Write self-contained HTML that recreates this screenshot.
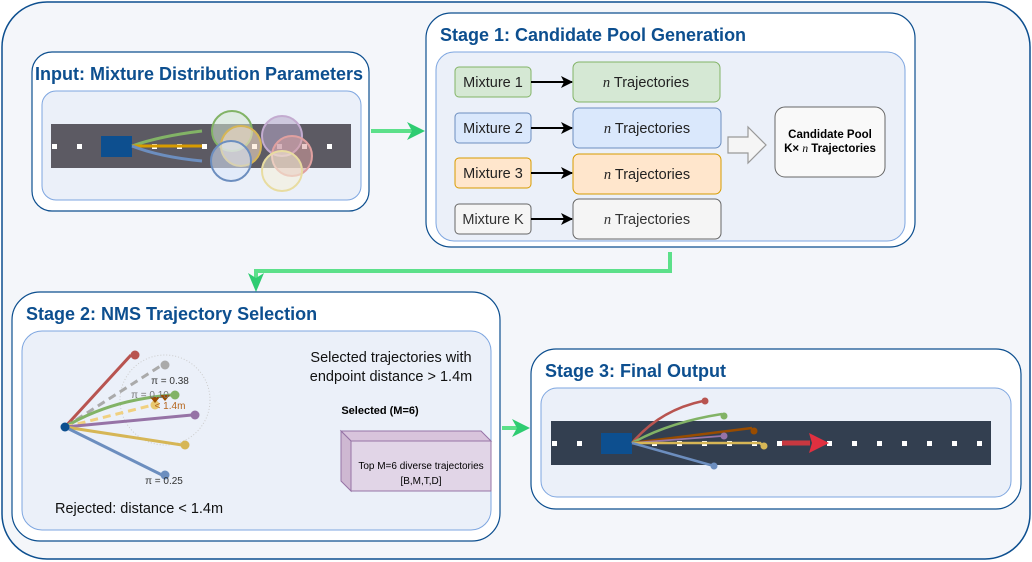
<!DOCTYPE html>
<html><head><meta charset="utf-8"><style>
body{margin:0;background:#fff}
svg{display:block;font-family:"Liberation Sans",sans-serif}
</style></head><body>
<svg width="1032" height="562" viewBox="0 0 1032 562" xmlns="http://www.w3.org/2000/svg">
<defs>
<marker id="ah" markerWidth="12" markerHeight="12" refX="11" refY="6" orient="auto" markerUnits="userSpaceOnUse"><path d="M0,0 L12,6 L0,12 L3,6z" fill="#000"/></marker>
</defs>
<rect x="2" y="2" width="1028" height="557" rx="45" fill="#f4f6fa" stroke="#0d4f8f" stroke-width="1.5"/>

<!-- Input -->
<rect x="32" y="52" width="337" height="159" rx="20" fill="#fff" stroke="#0d4f8f" stroke-width="1.2"/>
<text x="199" y="80" text-anchor="middle" font-size="18" font-weight="bold" fill="#0d4f8f">Input: Mixture Distribution Parameters</text>
<rect x="42" y="91" width="319" height="109" rx="14" fill="#ebf0f9" stroke="#7ea6e0"/>
<rect x="51" y="124" width="300" height="44" fill="#5c5a63"/>
<g fill="#fff">
<rect x="52" y="144" width="5" height="5"/><rect x="77" y="144" width="5" height="5"/><rect x="152" y="144" width="5" height="5"/><rect x="177" y="144" width="5" height="5"/><rect x="202" y="144" width="5" height="5"/><rect x="252" y="144" width="5" height="5"/><rect x="277" y="144" width="5" height="5"/><rect x="302" y="144" width="5" height="5"/><rect x="327" y="144" width="5" height="5"/></g>
<rect x="101" y="136" width="31" height="21" fill="#0d4f8f"/>
<path d="M132,146 Q160,136 202,131" stroke="#82b366" stroke-width="3" fill="none"/>
<path d="M132,146 L202,146" stroke="#d79b00" stroke-width="3"/>
<path d="M132,146 Q160,157 202,161" stroke="#6c8ebf" stroke-width="3" fill="none"/>
<g stroke-width="2" fill-opacity="0.55">
<circle cx="232" cy="131" r="20" fill="#d5e8d4" stroke="#82b366"/>
<circle cx="282" cy="136" r="20" fill="#b7a8c8" stroke="#c3abd0"/>
<circle cx="241" cy="146" r="20" fill="#ffe6cc" stroke="#d6b656"/>
<circle cx="292" cy="156" r="20" fill="#d9a0a0" stroke="#e0a0a0"/>
<circle cx="231" cy="161" r="20" fill="#dae8fc" stroke="#6c8ebf"/>
<circle cx="282" cy="171" r="20" fill="#f5f0d8" stroke="#e8dca0"/>
</g>

<path d="M371,131 L412,131" stroke="#5ce08a" stroke-width="4"/>
<path d="M425,131 L407,122 L412,131 L407,140z" fill="#2ecc71"/>

<!-- Stage 1 -->
<rect x="426" y="13" width="489" height="234" rx="25" fill="#fff" stroke="#0d4f8f" stroke-width="1.2"/>
<text x="440" y="41" font-size="18" font-weight="bold" fill="#0d4f8f">Stage 1: Candidate Pool Generation</text>
<rect x="436" y="52" width="469" height="189" rx="18" fill="#ebf0f9" stroke="#7ea6e0"/>
<g font-size="14.5" fill="#222">
<rect x="455" y="67" width="76" height="30" rx="4" fill="#d5e8d4" stroke="#82b366"/><text x="493" y="87" text-anchor="middle">Mixture 1</text>
<rect x="455" y="113" width="76" height="30" rx="4" fill="#dae8fc" stroke="#6c8ebf"/><text x="493" y="133" text-anchor="middle">Mixture 2</text>
<rect x="455" y="158" width="76" height="30" rx="4" fill="#ffe6cc" stroke="#d79b00"/><text x="493" y="178" text-anchor="middle">Mixture 3</text>
<rect x="455" y="204" width="76" height="30" rx="4" fill="#f5f5f5" stroke="#666"/><text x="493" y="224" text-anchor="middle" fill="#333">Mixture K</text>
<rect x="573" y="62" width="147" height="40" rx="6" fill="#d5e8d4" stroke="#82b366"/><text x="646" y="87" text-anchor="middle"><tspan font-family="Liberation Serif,serif" font-style="italic">n</tspan>  Trajectories</text>
<rect x="573" y="108" width="148" height="40" rx="6" fill="#dae8fc" stroke="#6c8ebf"/><text x="647" y="133" text-anchor="middle"><tspan font-family="Liberation Serif,serif" font-style="italic">n</tspan>  Trajectories</text>
<rect x="573" y="154" width="148" height="40" rx="6" fill="#ffe6cc" stroke="#d79b00"/><text x="647" y="179" text-anchor="middle"><tspan font-family="Liberation Serif,serif" font-style="italic">n</tspan>  Trajectories</text>
<rect x="573" y="199" width="148" height="40" rx="6" fill="#f5f5f5" stroke="#666"/><text x="647" y="224" text-anchor="middle" fill="#333"><tspan font-family="Liberation Serif,serif" font-style="italic">n</tspan>  Trajectories</text>
</g>
<g stroke="#000" stroke-width="2" marker-end="url(#ah)">
<line x1="531" y1="82" x2="572" y2="82"/><line x1="531" y1="128" x2="572" y2="128"/><line x1="531" y1="173" x2="572" y2="173"/><line x1="531" y1="219" x2="572" y2="219"/>
</g>
<path d="M728,137 L748,137 L748,127 L766,145 L748,163 L748,153 L728,153z" fill="#f5f5f5" stroke="#999" stroke-width="1.2"/>
<rect x="775" y="107" width="110" height="70" rx="10" fill="#f9f9f9" stroke="#666"/>
<text x="830" y="138" text-anchor="middle" font-size="11.5" font-weight="bold">Candidate Pool</text>
<text x="830" y="152" text-anchor="middle" font-size="11.5" font-weight="bold">K× <tspan font-family="Liberation Serif,serif" font-style="italic" font-weight="normal">n</tspan> Trajectories</text>

<path d="M670,252 L670,271 L256,271 L256,280" stroke="#5ce08a" stroke-width="4" fill="none"/>
<path d="M256,292 L248,273 L256,278 L264,273z" fill="#2ecc71"/>

<!-- Stage 2 -->
<rect x="12" y="292" width="488" height="249" rx="28" fill="#fff" stroke="#0d4f8f" stroke-width="1.2"/>
<text x="26" y="320" font-size="18" font-weight="bold" fill="#0d4f8f">Stage 2: NMS Trajectory Selection</text>
<rect x="22" y="331" width="469" height="199" rx="20" fill="#ebf0f9" stroke="#7ea6e0"/>
<circle cx="165" cy="400" r="45" fill="none" stroke="#ccc" stroke-dasharray="1,2"/>
<g stroke-width="3" fill="none">
<path d="M65,427 L131,355" stroke="#b85450"/>
<path d="M65,427 L162,365" stroke="#aaa" stroke-dasharray="8,5"/>
<path d="M65,427 Q110,400 171,395" stroke="#82b366"/>
<path d="M65,427 L153,405" stroke="#f0d080" stroke-dasharray="8,5"/>
<path d="M65,427 L192,415" stroke="#9673a6"/>
<path d="M65,427 L182,445" stroke="#d6b656"/>
<path d="M65,427 L162,475" stroke="#6c8ebf"/>
</g>
<circle cx="135" cy="355" r="4.5" fill="#b85450"/>
<circle cx="165" cy="365" r="4.5" fill="#aaa"/>
<circle cx="175" cy="395" r="4.5" fill="#82b366"/>
<circle cx="155" cy="405" r="4.5" fill="#e8c870"/>
<circle cx="195" cy="415" r="4.5" fill="#9673a6"/>
<circle cx="185" cy="445" r="4.5" fill="#d6b656"/>
<circle cx="165" cy="475" r="4.5" fill="#6c8ebf"/>
<circle cx="65" cy="427" r="4.5" fill="#0d4f8f"/>
<path d="M150,397 L160,397 L155,403z M160,395 L170,395 L165,401z" fill="#994c00"/>
<text x="170" y="384" text-anchor="middle" font-size="10" fill="#333">π = 0.38</text>
<text x="150" y="398" text-anchor="middle" font-size="10" fill="#777">π = 0.10</text>
<text x="170" y="409" text-anchor="middle" font-size="10" fill="#b5651d">&lt; 1.4m</text>
<text x="164" y="484" text-anchor="middle" font-size="10" fill="#333">π = 0.25</text>
<text x="55" y="513" font-size="14.5" fill="#111">Rejected: distance &lt; 1.4m</text>
<text x="391" y="362" text-anchor="middle" font-size="14.5" fill="#111">Selected trajectories with</text>
<text x="391" y="381" text-anchor="middle" font-size="14.5" fill="#111">endpoint distance &gt; 1.4m</text>
<text x="380" y="414" text-anchor="middle" font-size="11" font-weight="bold">Selected (M=6)</text>
<path d="M341,431 L481,431 L491,441 L351,441z" fill="#d8c4dc" stroke="#9673a6"/>
<path d="M341,431 L351,441 L351,491 L341,481z" fill="#ceb8d2" stroke="#9673a6"/>
<rect x="351" y="441" width="140" height="50" fill="#e1d5e7" stroke="#9673a6"/>
<text x="421" y="469" text-anchor="middle" font-size="10">Top M=6 diverse trajectories</text>
<text x="421" y="484" text-anchor="middle" font-size="10">[B,M,T,D]</text>

<path d="M502,428 L518,428" stroke="#5ce08a" stroke-width="4"/>
<path d="M530,428 L512,419 L517,428 L512,437z" fill="#2ecc71"/>

<!-- Stage 3 -->
<rect x="531" y="349" width="490" height="160" rx="25" fill="#fff" stroke="#0d4f8f" stroke-width="1.2"/>
<text x="545" y="377" font-size="18" font-weight="bold" fill="#0d4f8f">Stage 3: Final Output</text>
<rect x="541" y="388" width="470" height="109" rx="16" fill="#ebf0f9" stroke="#7ea6e0"/>
<rect x="551" y="421" width="440" height="44" fill="#333f50"/>
<g fill="#fff">
<rect x="552" y="441" width="5" height="5"/><rect x="577" y="441" width="5" height="5"/><rect x="652" y="441" width="5" height="5"/><rect x="677" y="441" width="5" height="5"/><rect x="702" y="441" width="5" height="5"/><rect x="727" y="441" width="5" height="5"/><rect x="752" y="441" width="5" height="5"/><rect x="777" y="441" width="5" height="5"/><rect x="827" y="441" width="5" height="5"/><rect x="852" y="441" width="5" height="5"/><rect x="877" y="441" width="5" height="5"/><rect x="902" y="441" width="5" height="5"/><rect x="927" y="441" width="5" height="5"/><rect x="952" y="441" width="5" height="5"/><rect x="977" y="441" width="5" height="5"/></g>
<rect x="601" y="433" width="31" height="21" fill="#0d4f8f"/>
<path d="M782,443 L810,443" stroke="#c83840" stroke-width="5"/>
<path d="M829,443 L809,433 L812,443 L809,453z" fill="#e03040"/>
<g stroke-width="2.5" fill="none">
<path d="M632,443 Q660,410 703,401" stroke="#b85450"/>
<path d="M632,443 Q670,422 722,414" stroke="#82b366"/>
<path d="M632,443 L752,428" stroke="#994c00"/>
<path d="M632,443 L722,436" stroke="#9673a6" stroke-width="1.8"/>
<path d="M632,443 L760,443 L763,446" stroke="#d6b656"/>
<path d="M632,443 L714,466" stroke="#6c8ebf"/>
</g>
<circle cx="705" cy="401" r="3.5" fill="#b85450"/>
<circle cx="724" cy="416" r="3.5" fill="#82b366"/>
<circle cx="754" cy="431" r="3.5" fill="#994c00"/>
<circle cx="724" cy="436" r="3.5" fill="#9673a6"/>
<circle cx="764" cy="446" r="3.5" fill="#d6b656"/>
<circle cx="714" cy="466" r="3.5" fill="#6c8ebf"/>
</svg>
</body></html>
